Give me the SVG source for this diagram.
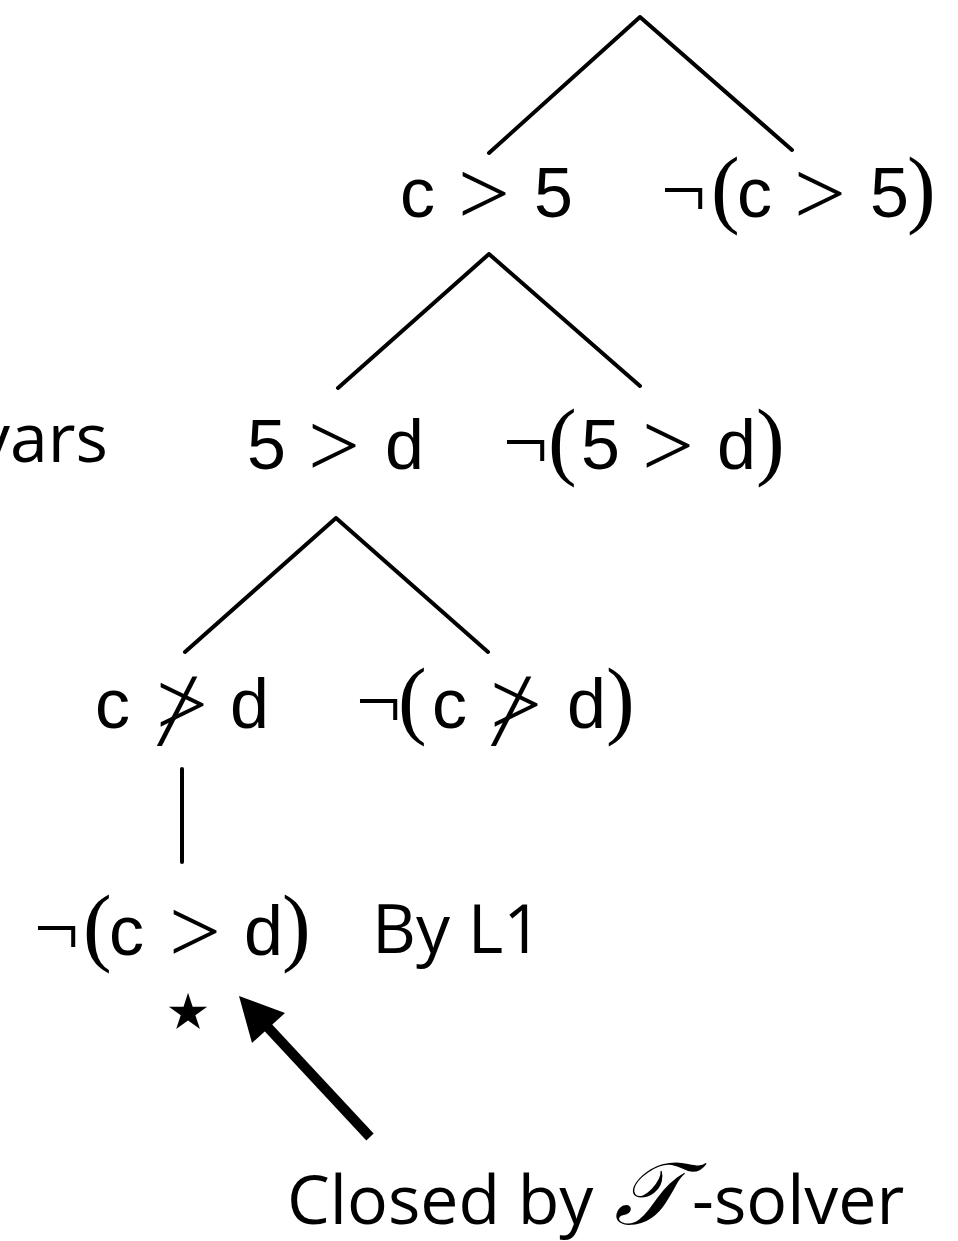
<svg xmlns="http://www.w3.org/2000/svg" width="958" height="1241" viewBox="0 0 958 1241">
<style>
.t{font-family:"Open Sans","Noto Sans",sans-serif;font-size:68px;fill:#000}
.v{font-family:"Liberation Sans",Arial,sans-serif;font-size:70px;fill:#000}
.m{font-family:"Liberation Serif","Times New Roman",serif;font-size:86px}
.n{font-family:"Liberation Serif","Times New Roman",serif;font-size:80px}
.g{font-family:"Liberation Serif","Times New Roman",serif;font-size:92px}
.sl{font-family:"Liberation Serif","Times New Roman",serif;font-size:104px;fill:#000}
.e{stroke:#000;stroke-width:4;fill:none;stroke-linecap:round}
</style>
<g id="edges">
<path class="e" d="M640,17 L489,153 M640,17 L792,150"/>
<path class="e" d="M489,254 L338,388 M489,254 L640,386"/>
<path class="e" d="M336,518 L185,652 M336,518 L488,652"/>
<path class="e" d="M182,769 L182,862"/>
<g id="arrow">
<path d="M370,1137 L262,1021" stroke="#000" stroke-width="10" fill="none"/>
<polygon points="239,996 285,1013 252,1043" fill="#000"/>
</g>
</g>
<g id="n1"><text class="v"><tspan x="400" y="217">c</tspan><tspan class="g" x="458" y="224">&gt;</tspan><tspan x="534" y="217">5</tspan></text></g>
<g id="n2"><text class="v"><tspan class="n" x="661" y="217">¬</tspan><tspan class="m" x="711" y="217">(</tspan><tspan x="737" y="217">c</tspan><tspan class="g" x="794" y="224">&gt;</tspan><tspan x="870" y="217">5</tspan><tspan class="m" x="907" y="217">)</tspan></text></g>
<g id="vars"><text class="t" x="108" y="462" text-anchor="end">vars</text></g>
<g id="n3"><text class="v"><tspan x="247" y="469">5</tspan><tspan class="g" x="308" y="476">&gt;</tspan><tspan x="385" y="469">d</tspan></text></g>
<g id="n4"><text class="v"><tspan class="n" x="503" y="469">¬</tspan><tspan class="m" x="548" y="469">(</tspan><tspan x="581" y="469">5</tspan><tspan class="g" x="642" y="476">&gt;</tspan><tspan x="717" y="469">d</tspan><tspan class="m" x="756" y="469">)</tspan></text></g>
<g id="n5"><text class="v"><tspan x="95" y="728">c</tspan><tspan class="g" x="156" y="735">&gt;</tspan><tspan x="230" y="728">d</tspan></text><text class="sl" transform="translate(157,745) skewX(-9.5)">/</text></g>
<g id="n6"><text class="v"><tspan class="n" x="356" y="728">¬</tspan><tspan class="m" x="398" y="728">(</tspan><tspan x="432" y="728">c</tspan><tspan class="g" x="490" y="735">&gt;</tspan><tspan x="567" y="728">d</tspan><tspan class="m" x="606" y="728">)</tspan></text><text class="sl" transform="translate(491,745) skewX(-9.5)">/</text></g>
<g id="n7"><text class="v"><tspan class="n" x="34" y="955">¬</tspan><tspan class="m" x="83" y="955">(</tspan><tspan x="109" y="955">c</tspan><tspan class="g" x="169" y="962">&gt;</tspan><tspan x="244" y="955">d</tspan><tspan class="m" x="282" y="955">)</tspan></text></g>
<g id="by"><text class="t" x="372" y="953">By L1</text></g>
<g id="star"><text x="188" y="1044" text-anchor="middle" font-family="DejaVu Sans,sans-serif" font-size="100">⋆</text></g>
<g id="closed"><text class="t" y="1224" font-size="75"><tspan x="287">Closed by</tspan><tspan x="614" font-family="Liberation Serif,serif" font-style="italic" font-size="88">𝒯</tspan><tspan x="692">-solver</tspan></text></g>
</svg>
